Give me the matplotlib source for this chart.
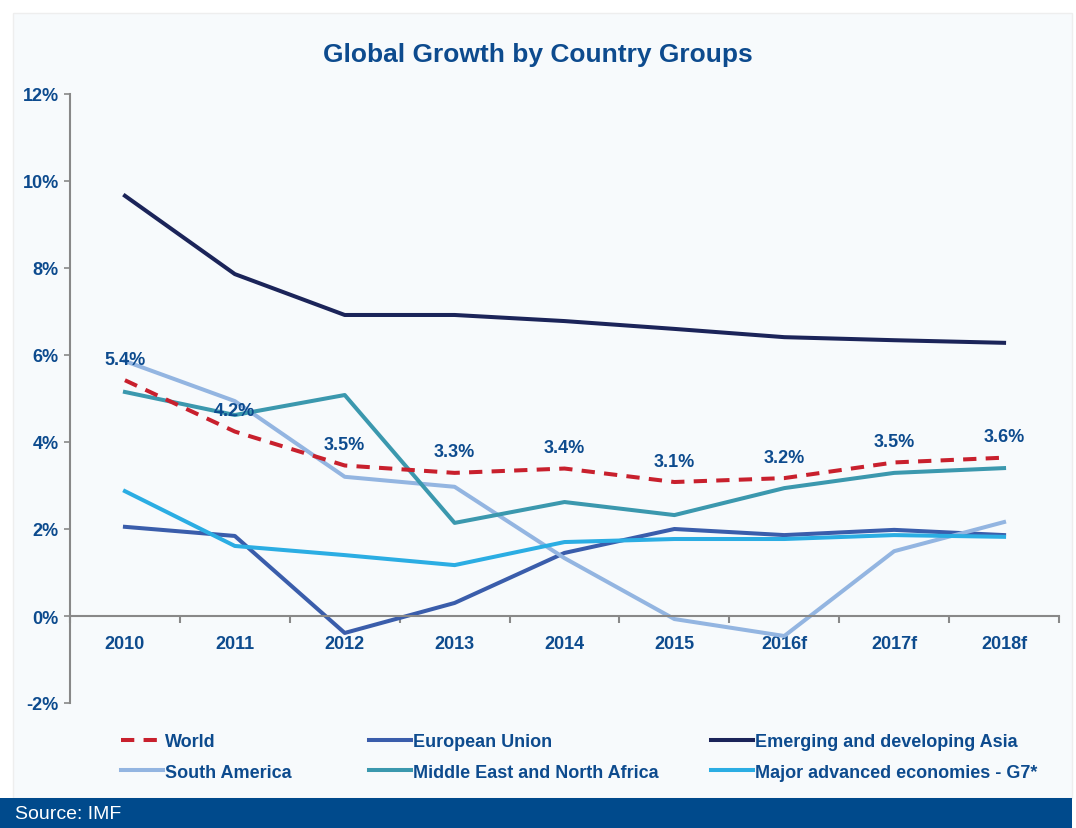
import numpy as np
import matplotlib
matplotlib.use("Agg")
import matplotlib.pyplot as plt
from matplotlib.patches import Rectangle

plt.rcParams['font.family'] = ['Liberation Sans', 'DejaVu Sans']
plt.rcParams['font.weight'] = 'bold'

years = ["2010", "2011", "2012", "2013", "2014", "2015", "2016f", "2017f", "2018f"]

world = [5.42, 4.24, 3.46, 3.29, 3.39, 3.08, 3.17, 3.53, 3.64]
eu = [2.05, 1.84, -0.39, 0.30, 1.45, 2.00, 1.86, 1.98, 1.86]
asia = [9.66, 7.86, 6.92, 6.92, 6.78, 6.60, 6.41, 6.34, 6.28]
south_america = [5.86, 4.94, 3.20, 2.97, 1.33, -0.07, -0.46, 1.49, 2.16]
mena = [5.15, 4.62, 5.08, 2.14, 2.62, 2.32, 2.94, 3.29, 3.40]
g7 = [2.87, 1.61, 1.40, 1.17, 1.70, 1.77, 1.77, 1.86, 1.82]

txt = '#0d4b8e'
panel = '#f7fafc'

fig = plt.figure(figsize=(10.76, 8.29), dpi=100)
fig.patch.set_facecolor('white')
fig.patches.append(Rectangle((13/1076, 30/829), (1072-13)/1076, (799-14)/829,
                             transform=fig.transFigure, facecolor=panel,
                             edgecolor='#eeeeee', lw=1, zorder=-10))
fig.patches.append(Rectangle((0, 0), 1072/1076, 30/829, transform=fig.transFigure,
                             facecolor='#004a8c', edgecolor='none', zorder=-5))
fig.text(15/1076, 14/829, "Source: IMF", color='white', fontsize=14,
         fontweight='normal', va='center', ha='left')

ax = fig.add_axes([70/1076, 1-704/829, (1059-70)/1076, (704-95)/829])
ax.set_facecolor('none')
x = np.arange(len(years))

lw = 2.9
l_world, = ax.plot(x, world, color='#c8202d', lw=lw, ls=(0, (3.3, 2.3)), label='World', zorder=5)
l_eu, = ax.plot(x, eu, color='#3a5dab', lw=lw, label='European Union')
l_asia, = ax.plot(x, asia, color='#1b2459', lw=lw, label='Emerging and developing Asia')
l_sa, = ax.plot(x, south_america, color='#93b5e1', lw=lw, label='South America')
l_mena, = ax.plot(x, mena, color='#3b98ae', lw=lw, label='Middle East and North Africa')
l_g7, = ax.plot(x, g7, color='#2badE3', lw=lw, label='Major advanced economies - G7*')

for xi, v in zip(x, world):
    ax.annotate(f"{v:.1f}%", (xi, v), xytext=(0, 9), textcoords='offset points',
                ha='center', va='bottom', fontsize=13, color=txt, zorder=6)

ax.set_xlim(-0.5, len(years) - 0.5)
ax.set_ylim(-2, 12)
ax.set_yticks(np.arange(-2, 13, 2))
ax.set_yticklabels([f"{v}%" for v in range(-2, 13, 2)])
ax.tick_params(axis='y', colors='#888888', labelcolor=txt, labelsize=13,
               length=4, width=1.2, pad=4)

ax.set_xticks(np.arange(-0.5, len(years), 1.0))
ax.set_xticklabels([])
ax.set_xticks(x, minor=True)
ax.set_xticklabels(years, minor=True)
ax.tick_params(axis='x', which='major', colors='#888888', length=5, width=1.5)
ax.tick_params(axis='x', which='minor', length=0, pad=14, labelcolor=txt, labelsize=13)

ax.spines['top'].set_visible(False)
ax.spines['right'].set_visible(False)
ax.spines['bottom'].set_position(('data', 0))
for s in ('left', 'bottom'):
    ax.spines[s].set_color('#888888')
    ax.spines[s].set_linewidth(1.5)

fig.text(0.5, 1-55/829, "Global Growth by Country Groups", ha='center', va='center',
         fontsize=19, color=txt)

cols = [(l_world, l_sa), (l_eu, l_mena), (l_asia, l_g7)]
starts = [121, 369, 711]
for (h1, h2), xs in zip(cols, starts):
    leg = fig.legend([h1, h2], [h1.get_label(), h2.get_label()], loc='upper left',
                     bbox_to_anchor=(xs/1076, 1-734/829), frameon=False,
                     handlelength=2.3, handletextpad=0.15, labelspacing=0.75,
                     borderpad=0, borderaxespad=0,
                     prop={'size': 13, 'weight': 'bold'})
    for t in leg.get_texts():
        t.set_color(txt)

fig.savefig("out.png", dpi=100)
